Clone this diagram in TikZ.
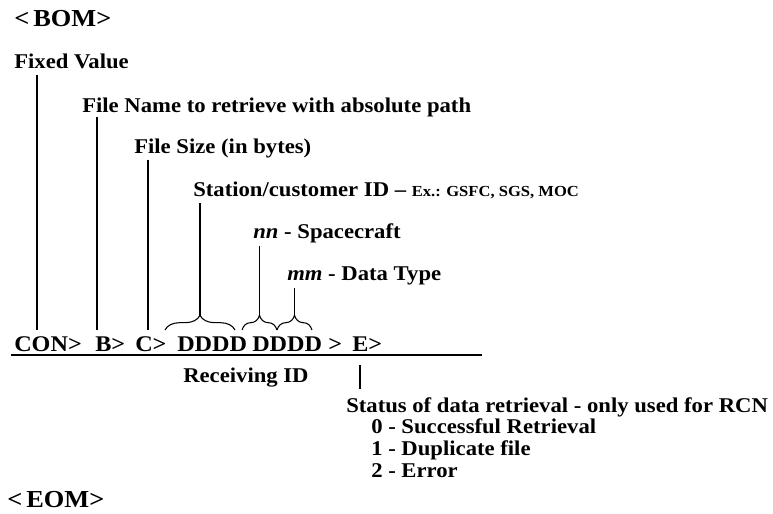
\documentclass[tikz,border=0pt]{standalone}
\usepackage{fontspec}
\setmainfont{Liberation Serif}[FakeStretch=1.08]
\usetikzlibrary{decorations.pathreplacing}
\begin{document}
\begin{tikzpicture}[x=0.75pt,y=-0.75pt,
  lbl/.style={anchor=base west,inner sep=0pt,font=\fontsize{15.75}{18}\selectfont\bfseries},
  big/.style={anchor=base west,inner sep=0pt,font=\fontsize{18.3}{21}\selectfont\bfseries},
  tok/.style={anchor=base west,inner sep=0pt,font=\fontsize{16.8}{19}\selectfont\bfseries},
  conn/.style={line width=0.8pt},
  bracedeco/.style={line width=0.8pt,decorate,decoration={brace,amplitude=11pt}}]
\useasboundingbox (0,0) rectangle (773,513);
% header / footer
\node[big] (bom) at (14,27) {<\,BOM>};
\node[big] (eom) at (7,507) {<\,EOM>};
% labels
\node[lbl] (fixed) at (14,69) {Fixed Value};
\node[lbl] (fname) at (82,113) {File Name to retrieve with absolute path};
\node[lbl] (fsize) at (134,154) {File Size (in bytes)};
\node[lbl] (station) at (193,196) {Station/customer ID -- {\fontsize{11.5}{13}\selectfont Ex.: GSFC, SGS, MOC}};
\node[lbl] (nn) at (253,238) {\textit{nn} - Spacecraft};
\node[lbl] (mm) at (287,280) {\textit{mm} - Data Type};
% message tokens
\node[tok] (con) at (14,351) {CON>};
\node[tok] (b) at (95,351) {B>};
\node[tok] (c) at (135,351) {C>};
\node[tok] (d1) at (177,351) {DDDD};
\node[tok] (d2) at (252,351) {DDDD};
\node[tok] (gt) at (328,351) {>};
\node[tok] (e) at (352,351) {E>};
\node[lbl] (recv) at (183,382) {Receiving ID};
\node[lbl] (status) at (346,412) {Status of data retrieval - only used for RCN};
\node[lbl] (s0) at (371,433) {0 - Successful Retrieval};
\node[lbl] (s1) at (371,455) {1 - Duplicate file};
\node[lbl] (s2) at (371,477) {2 - Error};
% coordinates for connector ends
\coordinate (fixedA) at (37,75);   \coordinate (fixedB) at (37,330);
\coordinate (fnameA) at (97,117);  \coordinate (fnameB) at (97,330);
\coordinate (fsizeA) at (148,160); \coordinate (fsizeB) at (148,330);
\coordinate (br1L) at (165,330); \coordinate (br1R) at (235,330);
\coordinate (br2L) at (242,330); \coordinate (br2R) at (277,330);
\coordinate (br3L) at (277,330); \coordinate (br3R) at (312,330);
\coordinate (stA) at (200,203); \coordinate (stB) at (200,316);
\coordinate (nnA) at (259.5,246); \coordinate (nnB) at (259.5,316);
\coordinate (mmA) at (294.5,288); \coordinate (mmB) at (294.5,316);
\coordinate (ulL) at (11,355); \coordinate (ulR) at (482,355);
\coordinate (eA) at (360,365); \coordinate (eB) at (360,389);
% connectors
\draw[conn] (fixedA) -- (fixedB);
\draw[conn] (fnameA) -- (fnameB);
\draw[conn] (fsizeA) -- (fsizeB);
\draw[conn] (stA) -- (stB);
\draw[conn] (nnA) -- (nnB);
\draw[conn] (mmA) -- (mmB);
\draw[bracedeco] (br1L) -- (br1R);
\draw[bracedeco] (br2L) -- (br2R);
\draw[bracedeco] (br3L) -- (br3R);
\draw[conn] (ulL) -- (ulR);
\draw[conn] (eA) -- (eB);
\end{tikzpicture}
\end{document}
